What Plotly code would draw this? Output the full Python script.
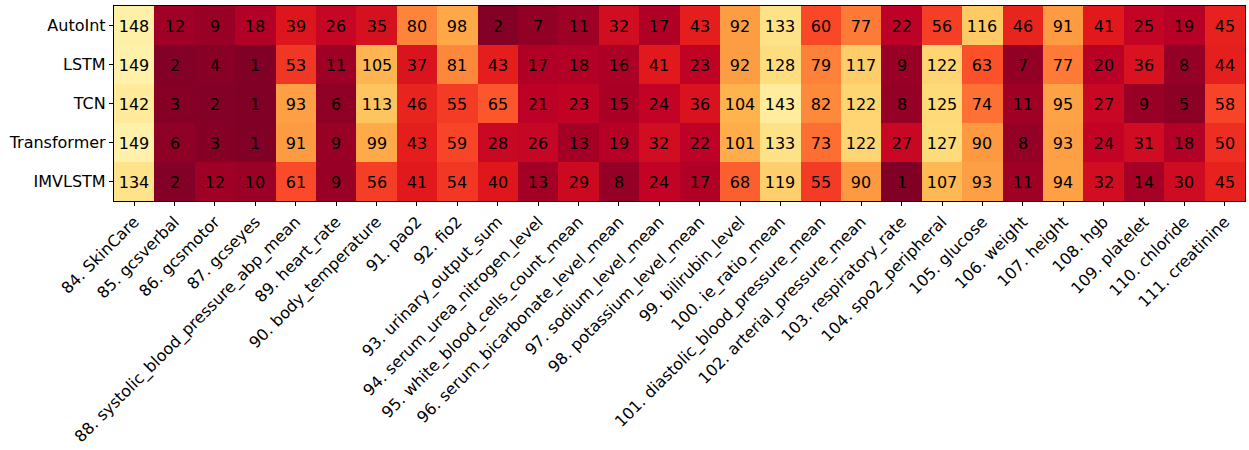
import plotly.graph_objects as go

models = ["AutoInt", "LSTM", "TCN", "Transformer", "IMVLSTM"]
features = [
    "84. SkinCare", "85. gcsverbal", "86. gcsmotor", "87. gcseyes",
    "88. systolic_blood_pressure_abp_mean", "89. heart_rate", "90. body_temperature",
    "91. pao2", "92. fio2", "93. urinary_output_sum", "94. serum_urea_nitrogen_level",
    "95. white_blood_cells_count_mean", "96. serum_bicarbonate_level_mean",
    "97. sodium_level_mean", "98. potassium_level_mean", "99. bilirubin_level",
    "100. ie_ratio_mean", "101. diastolic_blood_pressure_mean",
    "102. arterial_pressure_mean", "103. respiratory_rate", "104. spo2_peripheral",
    "105. glucose", "106. weight", "107. height", "108. hgb", "109. platelet",
    "110. chloride", "111. creatinine",
]
autoint = [148, 12, 9, 18, 39, 26, 35, 80, 98, 2, 7, 11, 32, 17, 43, 92, 133, 60, 77, 22, 56, 116, 46, 91, 41, 25, 19, 45]
lstm = [149, 2, 4, 1, 53, 11, 105, 37, 81, 43, 17, 18, 16, 41, 23, 92, 128, 79, 117, 9, 122, 63, 7, 77, 20, 36, 8, 44]
tcn = [142, 3, 2, 1, 93, 6, 113, 46, 55, 65, 21, 23, 15, 24, 36, 104, 143, 82, 122, 8, 125, 74, 11, 95, 27, 9, 5, 58]
transformer = [149, 6, 3, 1, 91, 9, 99, 43, 59, 28, 26, 13, 19, 32, 22, 101, 133, 73, 122, 27, 127, 90, 8, 93, 24, 31, 18, 50]
imvlstm = [134, 2, 12, 10, 61, 9, 56, 41, 54, 40, 13, 29, 8, 24, 17, 68, 119, 55, 90, 1, 107, 93, 11, 94, 32, 14, 30, 45]

z = [autoint, lstm, tcn, transformer, imvlstm]

ylorrd_r = [
    [0.0, "#800026"], [0.125, "#bd0026"], [0.25, "#e31a1c"], [0.375, "#fc4e2a"],
    [0.5, "#fd8d3c"], [0.625, "#feb24c"], [0.75, "#fed976"], [0.875, "#ffeda0"],
    [1.0, "#ffffcc"],
]

fig = go.Figure(
    go.Heatmap(
        z=z,
        x=features,
        y=models,
        colorscale=ylorrd_r,
        zmin=1,
        zmax=165,
        showscale=False,
        texttemplate="%{z}",
        textfont=dict(size=16, color="black", family="DejaVu Sans"),
        xgap=0,
        ygap=0,
    )
)

fig.update_layout(
    width=1249,
    height=450,
    margin=dict(l=114, r=3, t=6, b=241),
    paper_bgcolor="white",
    plot_bgcolor="white",
    font=dict(family="DejaVu Sans", size=16, color="black"),
)
axis_style = dict(
    ticks="outside",
    ticklen=4,
    tickcolor="black",
    showline=True,
    linecolor="black",
    linewidth=1.3,
    mirror=True,
    showgrid=False,
    tickfont=dict(size=16, family="DejaVu Sans", color="black"),
)
fig.update_xaxes(tickangle=-45, **axis_style)
fig.update_yaxes(autorange="reversed", **axis_style)

fig.write_html(
    "out.html",
    config={"displayModeBar": False},
    post_script="document.body.style.margin='0';document.body.style.overflow='hidden';",
)
